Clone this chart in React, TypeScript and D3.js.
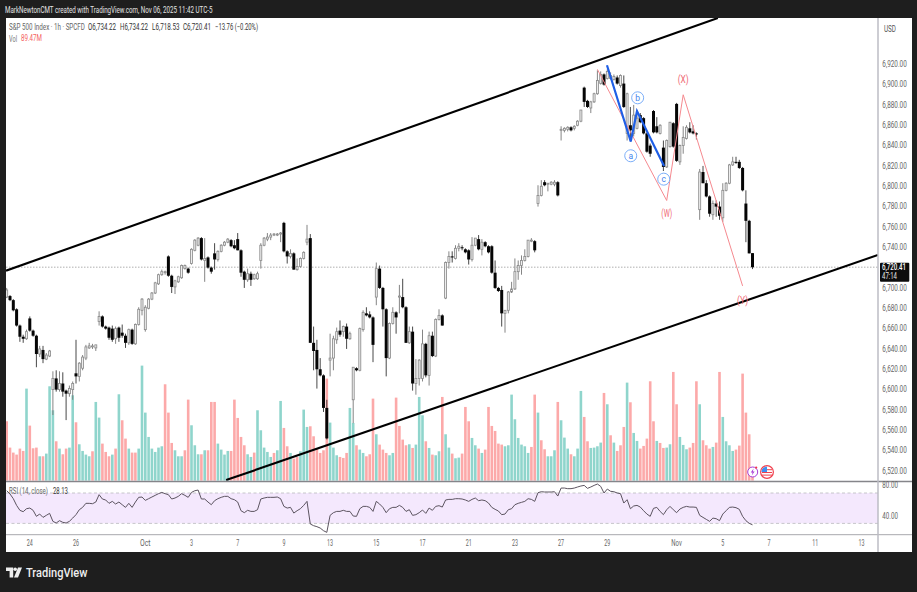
import React from "react";
import * as d3 from "d3";

const W = 917, H = 592;

const opens = [6691,6692,6688,6679,6663,6652,6650,6670,6658,6653,6635,6639,6630,6633,6600,6611,6600,6606,6599,6596,6600,6616,6613,6621,6631,6641,6642,6641,6667,6672,6662,6661,6660,6650,6661,6656,6653,6646,6659,6645,6664,6678,6659,6680,6689,6695,6704,6713,6715,6731,6712,6701,6706,6710,6719,6719,6724,6737,6742,6749,6727,6730,6720,6734,6728,6736,6742,6745,6747,6742,6748,6737,6716,6708,6714,6709,6709,6727,6742,6748,6750,6752,6753,6753,6764,6736,6731,6734,6718,6721,6729,6745,6749,6646,6639,6620,6614,6582,6629,6631,6649,6658,6657,6662,6650,6590,6621,6619,6659,6675,6674,6671,6691,6719,6700,6679,6631,6665,6676,6691,6691,6681,6646,6657,6606,6611,6611,6645,6614,6653,6633,6669,6673,6690,6725,6731,6729,6739,6740,6738,6737,6728,6742,6748,6738,6745,6741,6741,6715,6700,6698,6675,6678,6696,6699,6716,6722,6727,6731,6746,6746,6783,6791,6804,6802,6802,6802,6804,6855,6855,6856,6858,6857,6860,6864,6897,6884,6877,6883,6891,6901,6910,6906,6906,6905,6907,6899,6901,6852,6860,6852,6857,6870,6867,6852,6840,6874,6859,6852,6838,6819,6839,6862,6881,6824,6840,6847,6857,6854,6852,6777,6814,6803,6790,6772,6783,6780,6769,6796,6803,6821,6824,6824,6818,6783,6766,6734.22];
const highs = [6700,6693,6689,6680,6664,6654,6659,6672,6659,6654,6643,6643,6636,6639,6618,6619,6618,6617,6600,6604,6608,6649,6627,6634,6644,6646,6645,6644,6677,6673,6663,6662,6663,6662,6662,6664,6655,6660,6660,6665,6681,6690,6683,6690,6696,6706,6714,6718,6717,6732,6713,6708,6712,6723,6723,6720,6739,6748,6750,6750,6749,6731,6721,6744,6737,6743,6746,6749,6748,6747,6754,6738,6717,6719,6716,6714,6716,6744,6750,6754,6754,6754,6754,6755,6765,6737,6738,6735,6729,6730,6736,6762,6753,6662,6649,6631,6615,6590,6655,6653,6661,6668,6663,6665,6657,6622,6622,6661,6678,6681,6677,6672,6725,6722,6701,6680,6666,6681,6677,6703,6709,6682,6662,6662,6630,6630,6659,6646,6657,6657,6670,6679,6674,6726,6736,6736,6742,6744,6742,6739,6738,6750,6749,6752,6748,6746,6742,6742,6727,6701,6702,6678,6697,6706,6729,6727,6732,6738,6747,6749,6747,6801,6806,6806,6803,6805,6806,6805,6859,6858,6859,6859,6860,6865,6875,6898,6885,6884,6892,6914,6913,6911,6915,6912,6910,6909,6910,6909,6892,6878,6880,6875,6872,6868,6853,6842,6875,6868,6861,6845,6846,6863,6863,6882,6841,6859,6860,6863,6860,6853,6817,6820,6806,6791,6786,6786,6785,6803,6804,6822,6829,6829,6826,6819,6796,6767,6734.22];
const lows = [6690,6687,6677,6662,6647,6646,6649,6657,6652,6622,6632,6626,6629,6632,6575,6598,6598,6593,6570,6593,6590,6606,6608,6619,6629,6640,6640,6638,6663,6661,6659,6649,6647,6645,6647,6651,6641,6644,6644,6644,6663,6673,6657,6679,6688,6694,6703,6712,6713,6711,6695,6694,6705,6709,6718,6714,6723,6736,6741,6727,6706,6719,6714,6718,6726,6735,6741,6744,6740,6738,6737,6711,6700,6706,6702,6708,6708,6719,6741,6746,6747,6751,6751,6745,6735,6724,6729,6718,6717,6720,6728,6742,6646,6619,6601,6613,6578,6551,6613,6619,6645,6652,6652,6640,6649,6567,6618,6618,6657,6672,6670,6627,6683,6699,6662,6613,6630,6664,6655,6675,6680,6646,6645,6599,6595,6604,6608,6612,6604,6632,6632,6668,6663,6689,6719,6725,6728,6736,6737,6734,6723,6726,6741,6737,6732,6740,6734,6714,6699,6696,6662,6656,6675,6695,6698,6708,6713,6726,6730,6745,6735,6780,6790,6800,6795,6801,6800,6790,6845,6853,6854,6854,6855,6859,6863,6878,6877,6872,6882,6890,6900,6899,6905,6905,6904,6900,6897,6877,6845,6844,6849,6856,6862,6851,6833,6829,6852,6852,6851,6815,6818,6838,6838,6824,6821,6832,6846,6852,6851,6846,6767,6803,6789,6770,6767,6770,6767,6765,6795,6802,6820,6822,6817,6795,6745,6734,6718.53];
const closes = [6698,6688,6678,6663,6652,6650,6657,6658,6653,6635,6640,6630,6634,6638,6611,6600,6606,6598,6596,6601,6606,6613,6626,6632,6642,6643,6643,6644,6672,6662,6660,6651,6649,6660,6651,6653,6646,6659,6645,6664,6679,6689,6681,6689,6695,6705,6713,6716,6716,6712,6701,6707,6711,6722,6722,6715,6738,6747,6749,6728,6729,6720,6716,6728,6736,6742,6745,6748,6741,6739,6737,6715,6708,6714,6708,6713,6714,6742,6749,6750,6752,6753,6753,6754,6736,6731,6734,6718,6721,6729,6735,6748,6646,6638,6620,6614,6582,6552,6631,6650,6657,6654,6662,6650,6655,6622,6619,6660,6676,6673,6671,6644,6719,6700,6679,6631,6665,6676,6671,6692,6681,6646,6657,6606,6611,6629,6645,6614,6653,6633,6669,6673,6663,6725,6731,6730,6739,6741,6739,6735,6728,6742,6749,6738,6745,6741,6735,6715,6700,6697,6675,6678,6696,6699,6716,6722,6727,6731,6747,6747,6737,6791,6800,6801,6803,6804,6804,6791,6856,6857,6858,6855,6859,6864,6875,6883,6878,6883,6891,6904,6910,6900,6913,6909,6908,6901,6909,6878,6891,6855,6870,6867,6863,6852,6834,6832,6853,6853,6860,6819,6845,6863,6839,6825,6840,6848,6858,6853,6852,6851,6814,6803,6790,6773,6783,6780,6771,6796,6803,6821,6824,6823,6818,6796,6766,6734,6720.41];

const volumes = [534,297,252,234,288,267,828,495,291,297,219,219,243,849,633,354,288,237,288,297,768,525,327,267,234,219,264,708,567,333,258,219,234,288,777,543,378,288,252,252,288,1035,612,393,288,258,297,309,867,612,339,273,219,219,273,729,498,318,237,237,273,273,708,708,333,279,234,267,267,729,564,393,318,237,213,252,633,453,297,258,213,249,273,717,474,309,249,198,213,264,639,483,489,399,288,249,273,918,522,297,228,213,204,249,654,519,318,279,249,219,237,738,417,324,279,249,228,249,747,492,369,318,327,294,324,753,588,354,294,234,228,264,753,417,297,243,201,207,243,663,534,384,318,288,249,279,663,492,447,333,324,309,318,774,552,384,324,309,249,303,774,612,363,282,219,219,273,708,543,387,288,237,219,288,807,573,354,294,297,309,342,789,687,408,342,267,318,483,882,705,429,357,288,312,378,894,534,357,339,294,297,327,978,687,393,321,282,297,339,894,687,363,318,288,303,342,978,573,354,318,267,279,315,963,612,417,89.47];
const volumeSides = "RRRRRRTRRR"+"TRTTTRTRRT"+"TRTTTTRTTR"+"RRTRTRRTRR"+"TTTTTTTTRR"+"RTTTRRTTTR"+"TRRRTTTTRR"+"RRRTTRTTTT"+"TRTTRRTRRT"+"TTRRRRRRTT"+"TRRRTTRTTR"+"RRTRRRTTRR"+"RRTRTTTRTR"+"TTRTTRTTRR"+"RTTRTRRRRR"+"RTTTTTTTTR"+"RTRRTTTRTT"+"TRTTTRRTTT"+"TRTRTRRRTR"+"TTRRRRRTRR"+"TTRRTTTRRR"+"TRRRTRRTTT"+"TRRRRRR";

const rsiValues = [73,68.7,62.5,53.7,47.2,45.4,49.3,50.2,47.2,39.3,42.3,37.9,40.6,43.2,32.7,30.5,33.6,31.4,30.5,32.7,37,41.5,48,51.1,56.4,56.4,55.9,58.1,67.8,62.1,60.8,56.4,59,55.5,58.1,54.6,51.1,56.4,51.1,58.1,64.3,64.7,60.3,62.5,64.7,66.9,69.1,70.8,69.1,67.8,62.1,63.4,65.6,69.1,66.9,64.3,70.8,73,73.9,62.1,62.1,58.1,54.6,59.9,62.5,64.3,65.6,65.6,62.5,61.2,58.1,46.7,44.1,47.2,45.8,45.8,48,62.1,63.4,64.3,64.3,64.3,64.7,62.5,52.4,50.2,51.1,43.6,46.7,49.3,53.7,59,29.2,27,25.7,23.9,20.4,18.2,40.6,44.1,45.8,45.8,47.2,45.8,45.8,39.7,39.3,49.3,52.4,52.4,51.1,45.8,59,55.5,51.1,44.1,49.3,51.1,51.1,53.7,51.1,45.8,48,40.6,41.5,44.1,47.6,43.2,50.2,47.2,52.4,53.3,51.5,60.8,61.6,61.6,62.5,62.5,62.1,60.8,59,61.6,63.4,59.9,60.8,59.9,56.8,51.1,48.5,46.3,41.5,42.3,48,49.3,54.6,56.4,57.7,59,62.5,61.6,59,70.4,71.7,71.3,71.3,71.3,71.7,66,76.5,76.5,75.7,75.7,76.5,77.9,79.2,80,76.1,77.9,80,81.8,78.7,70,75.2,72.2,71.7,70,69.1,56.8,61.2,49.3,52.9,53.7,51.5,46.7,42.3,39.3,49.8,51.1,45.8,41.5,48,52.4,48,44.1,48.9,51.1,52.4,51.5,51.5,51.1,40.6,37.9,35.3,32.7,37,36.2,33.6,42.3,46.7,51.1,51.5,50.7,48.5,39.3,33.6,30.1,28.13];

const priceTicks = d3.range(6520, 6921, 20).filter((p) => p !== 6720);
const rsiTicks = [80, 40];
const dateLabels = ["24","26","Oct","3","7","9","13","15","17","21","23","27","29","Nov","5","7","11","13"];
const dateBars = [7,21,42,56,70,84,98,112,126,140,154,168,182,203,217,231,245,259];

const upperChannelBars = [-0.2, 215.5];
const upperChannelPrices = [6717, 6965.5];
const lowerChannelBars = [66.5, 264];
const lowerChannelPrices = [6511, 6732.4];
const blueBars = [181.9, 189.1, 191, 199.2];
const bluePrices = [6919, 6844, 6874, 6820];
const redBars = [179, 200, 205, 223];
const redPrices = [6915, 6786, 6890, 6702];
const circleLabels = ["a", "b", "c"];
const circleBars = [189.1, 191.2, 199.1];
const circlePrices = [6830, 6887, 6807];
const waveLabels = ["(X)", "(W)", "(Y)"];
const waveBars = [205, 200, 223];
const wavePrices = [6905, 6773, 6688];

const LEFT = 6, AXIS = 878, RIGHT = 912, TOP = 18, VOLBASE = 480.6, PANE = 481.5, RSIB = 534.7, BOTTOM = 552;

const x = d3.scaleLinear().domain([0, 226]).range([6.7, 6.7 + 3.3 * 226]);
const y = d3.scaleLinear().domain([6720, 6920]).range([267.6, 64.26]);
const yVol = d3.scaleLinear().domain([0, 1000]).range([VOLBASE, VOLBASE - 111.1]);
const yRsi = d3.scaleLinear().domain([30, 70]).range([523.4, 493]);
const rsiLine = d3.line<number>().x((_, i) => x(i)).y((d) => yRsi(d)).curve(d3.curveLinear);
const pathOf = (bars: number[], prices: number[]) =>
  d3.line<number>().x((d) => x(d)).y((_, i) => y(prices[i]))(bars) as string;

const FONT = "Roboto, 'Noto Sans', sans-serif";
const ctx = document.createElement("canvas").getContext("2d") as CanvasRenderingContext2D;

// The reference's type is squeezed sideways: scale each text to its measured width.
function T(p: { x: number; y: number; w?: number; s?: number; c?: string; a?: string; b?: boolean; children: any }) {
  const size = p.s ?? 8.5;
  const weight = p.b ? 500 : 400;
  ctx.font = `${weight} ${size}px ${FONT}`;
  const natural = ctx.measureText(String(p.children)).width || 1;
  const sx = p.w ? p.w / natural : 1;
  return (
    <text
      transform={`translate(${p.x},${p.y}) scale(${sx},1)`}
      fontSize={size}
      fill={p.c ?? "#555"}
      fontFamily={FONT}
      fontWeight={weight}
      textAnchor={p.a ?? "start"}
      dominantBaseline="central"
    >
      {p.children}
    </text>
  );
}

export default function App() {
  return (
    <svg
      width={W}
      height={H}
      viewBox={`0 0 ${W} ${H}`}
      style={{ position: "absolute", left: 0, top: 0, display: "block" }}
    >
      <defs>
        <clipPath id="main"><rect x={LEFT} y={TOP} width={AXIS - LEFT} height={PANE - TOP} /></clipPath>
        <clipPath id="rsi"><rect x={LEFT} y={PANE} width={AXIS - LEFT} height={RSIB - PANE} /></clipPath>
      </defs>
      <rect width={W} height={H} fill="#1e1e1e" />
      <rect x={LEFT} y={TOP} width={RIGHT - LEFT} height={BOTTOM - TOP} fill="#fff" />
      <T x={5} y={10} w={208} s={8.5} c="#e4e4e4">MarkNewtonCMT created with TradingView.com, Nov 06, 2025 11:42 UTC-5</T>

      <g clipPath="url(#main)">
        {volumes.map((v, i) => (
          <rect
            key={i}
            x={x(i) - 1.3}
            y={yVol(v)}
            width={2.6}
            height={VOLBASE - yVol(v)}
            fill={volumeSides[i] === "T" ? "#8fd5cc" : "#fca9a9"}
          />
        ))}
        <line x1={LEFT} x2={AXIS} y1={y(6720.41)} y2={y(6720.41)} stroke="#b0b0b0" strokeWidth={1} strokeDasharray="1.5 1.5" />
        {opens.map((o, i) => {
          const c = closes[i];
          const up = c >= o;
          const top = y(Math.max(o, c));
          const h = Math.max(1, Math.abs(y(o) - y(c)));
          return (
            <g key={i}>
              <line x1={x(i)} x2={x(i)} y1={y(highs[i])} y2={y(lows[i])} stroke={up ? "#777" : "#333"} strokeWidth={0.9} />
              {up ? (
                <rect x={x(i) - 1} y={top} width={2} height={h} fill="#eeeeee" stroke="#888" strokeWidth={0.8} />
              ) : (
                <rect x={x(i) - 1.5} y={top} width={3} height={h} fill="#050505" />
              )}
            </g>
          );
        })}
        <path d={pathOf(upperChannelBars, upperChannelPrices)} stroke="#000" strokeWidth={2.1} fill="none" />
        <path d={pathOf(lowerChannelBars, lowerChannelPrices)} stroke="#000" strokeWidth={2.1} fill="none" />
        <path d={pathOf(redBars, redPrices)} stroke="#f5898f" strokeWidth={1} fill="none" />
        <path d={pathOf(blueBars, bluePrices)} stroke="#1f5fe6" strokeWidth={2.2} fill="none" />
        {circleLabels.map((l, i) => (
          <g key={l}>
            <circle cx={x(circleBars[i])} cy={y(circlePrices[i])} r={6} fill="#fff" stroke="#6ea6f7" strokeWidth={0.9} />
            <T x={x(circleBars[i])} y={y(circlePrices[i])} a="middle" s={8.5} c="#3f84ee">{l}</T>
          </g>
        ))}
        {waveLabels.map((l, i) => (
          <T key={l} x={x(waveBars[i])} y={y(wavePrices[i])} a="middle" s={10} w={11} c="#ef6b76">{l}</T>
        ))}
      </g>

      {/* RSI pane */}
      <rect x={LEFT} y={yRsi(70)} width={AXIS - LEFT} height={yRsi(30) - yRsi(70)} fill="#f4e8fd" />
      {[70, 30].map((v) => (
        <line key={v} x1={LEFT} x2={AXIS} y1={yRsi(v)} y2={yRsi(v)} stroke="#b9b9bd" strokeWidth={0.8} strokeDasharray="3 2.5" />
      ))}
      <g clipPath="url(#rsi)">
        <path d={rsiLine(rsiValues) as string} stroke="#5c5460" strokeWidth={1} fill="none" />
      </g>

      {/* frames */}
      <line x1={LEFT} x2={RIGHT} y1={PANE} y2={PANE} stroke="#85858a" strokeWidth={1.4} />
      <line x1={LEFT} x2={RIGHT} y1={RSIB} y2={RSIB} stroke="#a8a8ad" strokeWidth={1} />
      <line x1={AXIS} x2={AXIS} y1={TOP} y2={BOTTOM} stroke="#bdbdc4" strokeWidth={1.5} />

      {/* legend */}
      <T x={9} y={27.3} w={76} c="#666">S&amp;P 500 Index · 1h · SPCFD</T>
      <T x={88} y={27.3} w={28} c="#333">O6,734.22</T>
      <T x={120} y={27.3} w={28} c="#333">H6,734.22</T>
      <T x={152} y={27.3} w={27.5} c="#333">L6,718.53</T>
      <T x={183} y={27.3} w={28} c="#333">C6,720.41</T>
      <T x={215} y={27.3} w={43} c="#333">−13.76 (−0.20%)</T>
      <T x={9} y={38.6} w={8} c="#777">Vol</T>
      <T x={21} y={38.6} w={21} c="#f45f5f">89.47M</T>
      <T x={9} y={490.7} w={39} c="#666">RSI (14, close)</T>
      <T x={53} y={490.7} w={15} c="#333">28.13</T>

      {/* price axis */}
      <T x={884} y={29} w={12} c="#555">USD</T>
      {priceTicks.map((p) => (
        <T key={p} x={882.3} y={y(p)} w={24.5} c="#666">{d3.format(",.2f")(p)}</T>
      ))}
      {rsiTicks.map((r) => (
        <T key={r} x={882.3} y={yRsi(r)} w={15.6} c="#666">{r.toFixed(2)}</T>
      ))}
      <rect x={880} y={262.7} width={29.3} height={19} fill="#0c0c0c" rx={1} />
      <T x={882} y={267.4} w={24} c="#fff" b>6,720.41</T>
      <T x={882} y={276.4} w={15} c="#e6e6e6">47:14</T>

      {/* time axis */}
      {dateLabels.map((d, i) => (
        <T key={i} x={x(dateBars[i])} y={543.3} a="middle" w={d.length === 1 ? 3 : d.length === 2 ? 6 : 10.5} c="#666">{d}</T>
      ))}

      {/* event icons */}
      <g>
        <circle cx={752.7} cy={472} r={5} fill="#fff" stroke="#a83bd6" strokeWidth={1} />
        <path d="M753.6 468.4 L750.8 472.6 L752.6 472.6 L751.8 475.6 L754.6 471.4 L752.8 471.4 Z" fill="#a83bd6" />
        <circle cx={756.2} cy={467.6} r={1.1} fill="#f23645" />
        <circle cx={767} cy={472} r={6.4} fill="#fff" stroke="#f0414f" strokeWidth={1.2} />
        <rect x={762} y={469.2} width={10} height={1} fill="#f0414f" />
        <rect x={762} y={472} width={10} height={1} fill="#f0414f" />
        <rect x={762} y={474.6} width={10} height={1} fill="#f0414f" />
        <path d="M761.5 472 A5.5 5.5 0 0 1 767 466.5 L767 472 Z" fill="#3f8ff0" />
      </g>

      {/* brand */}
      <g fill="#eeeeee">
        <path d="M6 567.5 H13.2 V577.5 H9.6 V571 H6 Z" />
        <circle cx={15.2} cy={569.3} r={1.8} />
        <path d="M18 567.5 H22 L18 577.5 H14 Z" />
      </g>
      <T x={26} y={572.5} w={61.5} s={13} c="#eeeeee" b>TradingView</T>
    </svg>
  );
}
